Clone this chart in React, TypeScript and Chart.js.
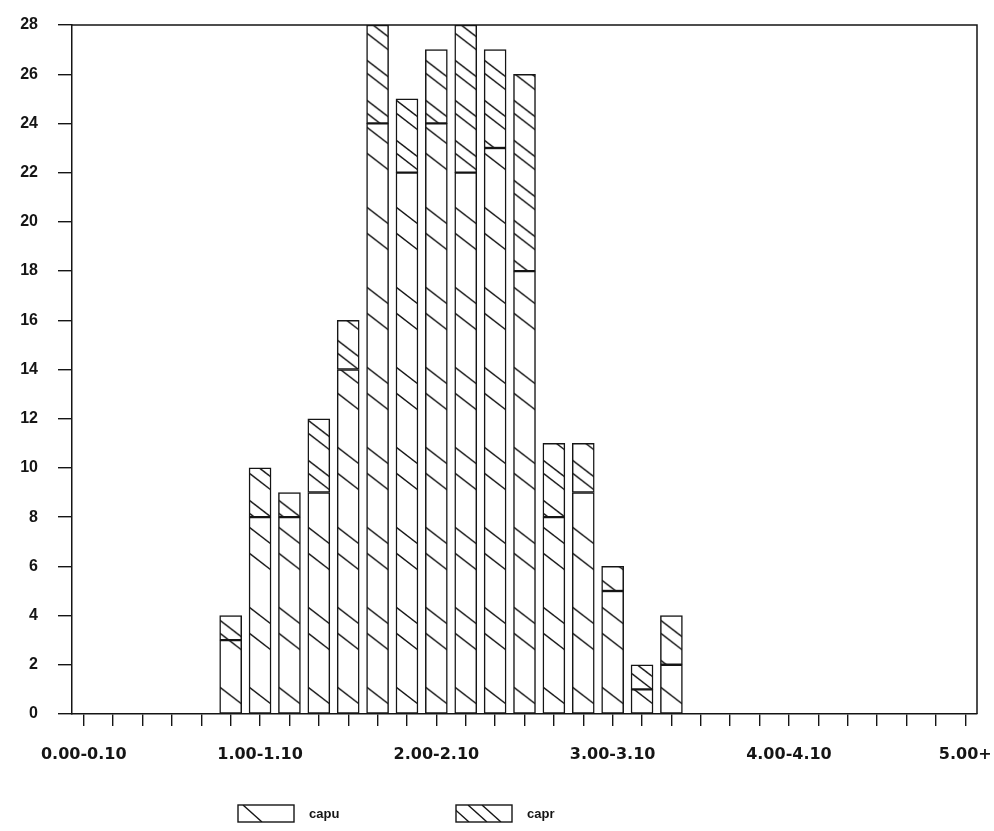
import { useEffect, useRef } from "react";
import { Chart, registerables } from "chart.js";

Chart.register(...registerables);

// ---- data ----
const categoryCount = 31;
const labelEvery = 6;
const tickLabels = ["0.00-0.10", "1.00-1.10", "2.00-2.10", "3.00-3.10", "4.00-4.10", "5.00+"];
const seriesNames = ["capu", "capr"];
const capu: (number | null)[] = [
  null, null, null, null, null,
  3, 8, 8, 9, 14, 24, 22, 24, 22, 23, 18, 8, 9, 5, 1, 2,
  null, null, null, null, null, null, null, null, null, null,
];
const capr: (number | null)[] = [
  null, null, null, null, null,
  1, 2, 1, 3, 2, 4, 3, 3, 6, 4, 8, 3, 2, 1, 1, 2,
  null, null, null, null, null, null, null, null, null, null,
];
const yMax = 28;
const yStep = 2;

// ---- style ----
const BAR_W = 22;
const DROP = 17;
const INK = "#151515";

function toPoints(values: (number | null)[]) {
  const pts: { x: number; y: number }[] = [];
  values.forEach((v, i) => {
    if (v !== null) pts.push({ x: i, y: v });
  });
  return pts;
}

function hatch(chart: any, xValue: number, period: number, offsets: number[]) {
  const xs = chart.scales.x;
  const ys = chart.scales.y;
  const left = xs.getPixelForValue(xValue) - BAR_W / 2;
  const zero = ys.getPixelForValue(0);
  const tile = document.createElement("canvas");
  tile.width = 60;
  tile.height = period;
  const c = tile.getContext("2d")!;
  c.fillStyle = "#fff";
  c.fillRect(0, 0, 60, period);
  c.strokeStyle = INK;
  c.lineWidth = 1.5;
  for (const off of offsets) {
    for (let k = -1; k <= 2; k++) {
      const y = off + k * period;
      c.beginPath();
      c.moveTo(0, y);
      c.lineTo(BAR_W, y + DROP);
      c.stroke();
    }
  }
  const p = chart.ctx.createPattern(tile, "repeat");
  p.setTransform(new DOMMatrix().translate(left, zero));
  return p;
}

const framePlugin = {
  id: "frame",
  afterDraw(chart: any) {
    const { ctx, chartArea } = chart;
    ctx.save();
    ctx.strokeStyle = INK;
    ctx.lineWidth = 1.5;
    ctx.beginPath();
    ctx.moveTo(chartArea.left, chartArea.top);
    ctx.lineTo(chartArea.right, chartArea.top);
    ctx.lineTo(chartArea.right, chartArea.bottom);
    ctx.stroke();

    // legend
    const items = [
      { x: chartArea.left + 166, name: seriesNames[0], lines: [5] },
      { x: chartArea.left + 384, name: seriesNames[1], lines: [-6, 12, 26] },
    ];
    const top = 805;
    const h = 17;
    const w = 56;
    ctx.font = "bold 13px 'Liberation Sans'";
    ctx.textBaseline = "middle";
    ctx.fillStyle = INK;
    for (const it of items) {
      ctx.save();
      ctx.beginPath();
      ctx.rect(it.x, top, w, h);
      ctx.clip();
      ctx.lineWidth = 1.4;
      for (const lx of it.lines) {
        ctx.beginPath();
        ctx.moveTo(it.x + lx, top);
        ctx.lineTo(it.x + lx + 19, top + h);
        ctx.stroke();
      }
      ctx.restore();
      ctx.lineWidth = 1.4;
      ctx.strokeRect(it.x, top, w, h);
      ctx.fillText(it.name, it.x + w + 15, top + h / 2 + 1);
    }
    ctx.restore();
  },
};

export default function App() {
  const ref = useRef<HTMLCanvasElement>(null);
  useEffect(() => {
    if (!ref.current) return;
    const chart = new Chart(ref.current, {
      type: "bar",
      data: {
        datasets: [
          {
            label: seriesNames[0],
            data: toPoints(capu) as any,
            backgroundColor: (ctx: any) =>
              ctx.type === "data" ? hatch(ctx.chart, ctx.raw.x, 80, [-1, -27]) : "#fff",
            borderColor: INK,
            borderWidth: 1.5,
            borderSkipped: false,
            barThickness: BAR_W,
          },
          {
            label: seriesNames[1],
            data: toPoints(capr) as any,
            backgroundColor: (ctx: any) =>
              ctx.type === "data" ? hatch(ctx.chart, ctx.raw.x, 40, [-1, -14]) : "#fff",
            borderColor: INK,
            borderWidth: 1.5,
            borderSkipped: false,
            barThickness: BAR_W,
          },
        ],
      },
      options: {
        animation: false,
        responsive: true,
        maintainAspectRatio: false,
        layout: { padding: { left: 0, right: 17, top: 25, bottom: 67 } },
        plugins: { legend: { display: false }, tooltip: { enabled: false } },
        scales: {
          x: {
            type: "linear",
            stacked: true,
            offset: false,
            min: -0.4,
            max: categoryCount - 0.6,
            afterFit: (s: any) => {
              s.height = 50;
              s.paddingLeft = 0;
              s.paddingRight = 0;
            },
            ticks: {
              stepSize: 1,
              includeBounds: false,
              autoSkip: false,
              maxRotation: 0,
              minRotation: 0,
              padding: 19,
              color: INK,
              font: { family: "'DejaVu Sans'", weight: "bold", size: 16 },
              callback: (v: any) => {
                const n = Math.round(Number(v));
                return n % labelEvery === 0 ? tickLabels[n / labelEvery] ?? "" : "";
              },
            },
            grid: {
              offset: false,
              drawOnChartArea: false,
              drawTicks: true,
              tickLength: 12,
              color: INK,
              lineWidth: 1.4,
            },
            border: { display: true, color: INK, width: 1.5 },
          },
          y: {
            stacked: true,
            min: 0,
            max: yMax,
            afterFit: (s: any) => {
              s.width = 72;
              s.paddingTop = 0;
              s.paddingBottom = 0;
            },
            ticks: {
              stepSize: yStep,
              padding: 20,
              color: INK,
              font: { family: "'Liberation Sans'", weight: "bold", size: 16 },
            },
            grid: {
              drawOnChartArea: false,
              drawTicks: true,
              tickLength: 14,
              color: INK,
              lineWidth: 1.4,
            },
            border: { display: true, color: INK, width: 1.5 },
          },
        },
      },
      plugins: [framePlugin],
    });
    return () => chart.destroy();
  }, []);
  return (
    <div style={{ position: "absolute", left: 0, top: 0, width: 994, height: 831, background: "#fff" }}>
      <canvas ref={ref} />
    </div>
  );
}
